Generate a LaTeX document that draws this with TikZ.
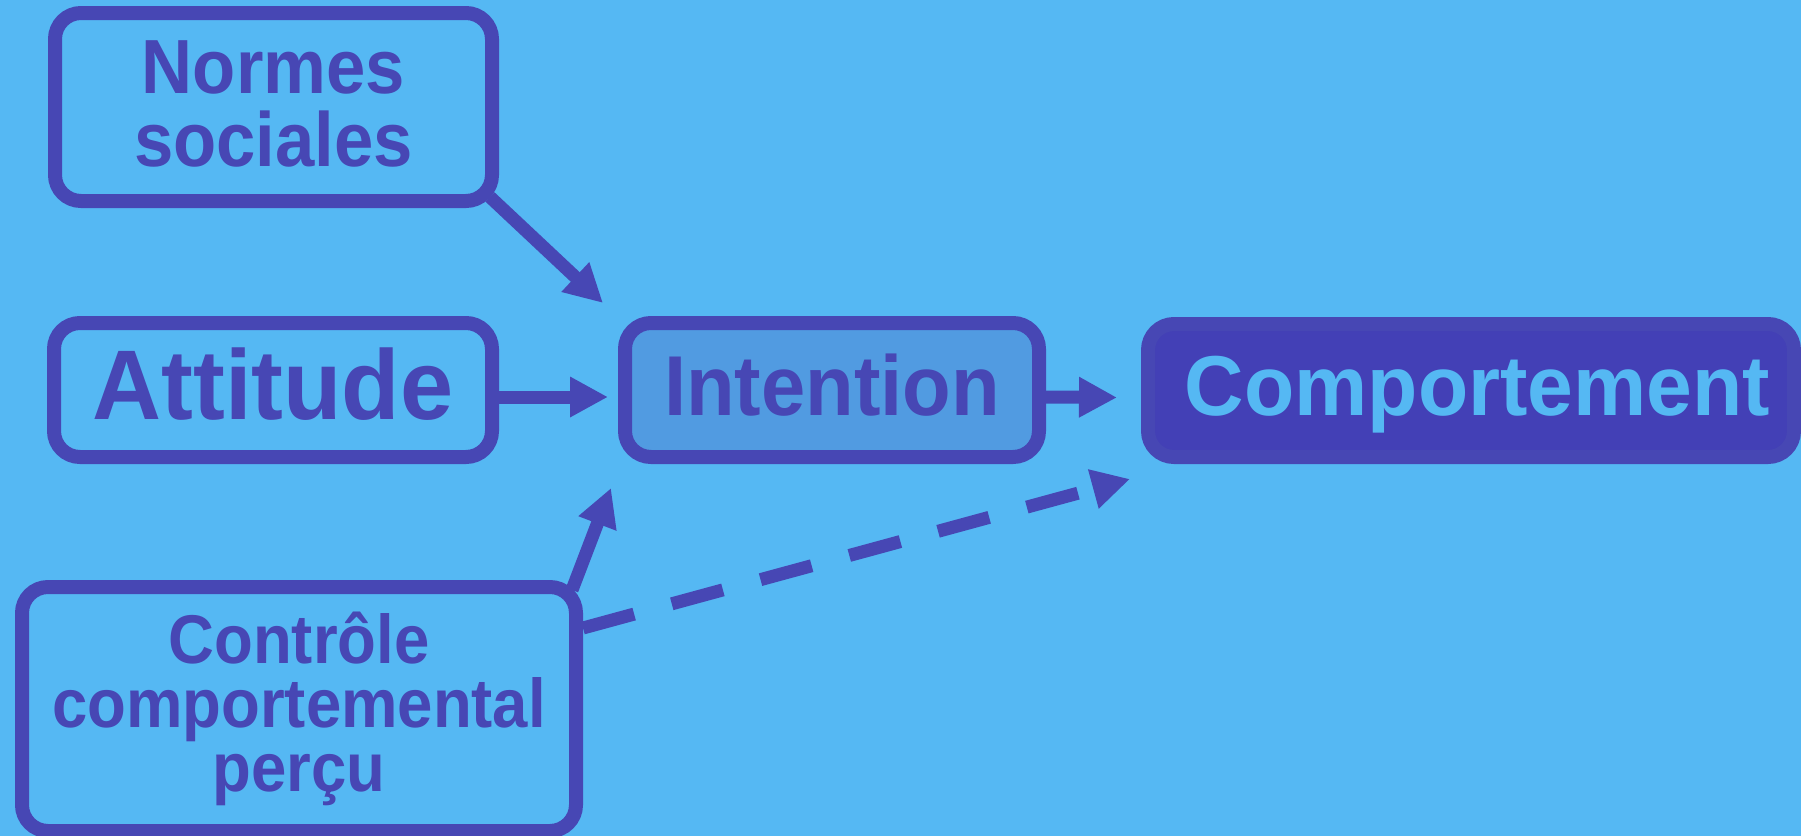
\documentclass[tikz,border=0pt]{standalone}
\usepackage{fontspec}
\setmainfont{Liberation Sans}
\newfontfamily\fatt{Liberation Sans}[FakeStretch=0.965]
\newfontfamily\fint{Liberation Sans}[FakeStretch=0.936]
\newfontfamily\fcomp{Liberation Sans}[FakeStretch=0.968]
\newfontfamily\fnorm{Liberation Sans}[FakeStretch=0.92]
\newfontfamily\fctrl{Liberation Sans}[FakeStretch=0.92]
\usetikzlibrary{arrows.meta}
\definecolor{bg}{RGB}{85,184,243}
\definecolor{ink}{RGB}{71,71,180}
\definecolor{intfill}{RGB}{81,155,225}
\definecolor{compfill}{RGB}{67,64,182}
\begin{document}
\begin{tikzpicture}[x=0.5pt,y=-0.5pt,
  box/.style={draw=ink, line width=7pt, rounded corners=13pt, inner sep=0pt, text=ink, align=center},
  arr/.style={draw=ink, line width=6.5pt, -{Triangle[length=19pt,width=19pt]}},
  dasharr/.style={arr, dash pattern=on 26.5pt off 19.5pt}
]
\fill[bg] (0,0) rectangle (1801,836);
\useasboundingbox (0,0) rectangle (1801,836);

\node[box, fill=bg, minimum width=218.5pt, minimum height=94pt,
  font=\fnorm\bfseries\fontsize{38.4}{36.5}\selectfont] (normes) at (273.5,107)
  {Normes\\sociales\rule[-3.5pt]{0pt}{3.5pt}};
\node[box, fill=bg, minimum width=219pt, minimum height=67pt, text height=29.3pt, text depth=0pt,
  font=\fatt\bfseries\fontsize{49.5}{50}\selectfont] (att) at (273,390) {Attitude};
\node[box, fill=intfill, minimum width=207pt, minimum height=67pt, text height=25pt, text depth=0pt,
  font=\fint\bfseries\fontsize{42.5}{44}\selectfont] (int) at (832,390) {Intention};
\node[box, fill=compfill, text=bg, minimum width=323pt, minimum height=66.5pt, text height=24.5pt, text depth=0pt,
  font=\fcomp\bfseries\fontsize{42.5}{44}\selectfont] (comp) at (1471,390.5) {\hspace*{6.5pt}Comportement};
\node[box, fill=bg, minimum width=277pt, minimum height=122pt,
  font=\fctrl\bfseries\fontsize{34.5}{32}\selectfont] (ctrl) at (299,709) {Contrôle\\comportemental\\perçu};

\coordinate (ntip) at (603,303);
\coordinate (ctip) at (611,488);
\coordinate (dtip) at (1130,479);

\draw[arr] ([xshift=-4.5pt,yshift=5.5pt]normes.south east) -- (ntip);
\draw[arr] ([yshift=-3.5pt]att.east) -- ([yshift=-3.5pt,xshift=-5pt]int.west);
\draw[arr] ([yshift=-3.5pt]int.east) -- ([yshift=-3.5pt,xshift=-12pt]comp.west);
\draw[arr] ([xshift=-5.5pt,yshift=-5pt]ctrl.north east) -- (ctip);
\draw[dasharr] ([yshift=-24pt]ctrl.north east) -- (dtip);
\end{tikzpicture}
\end{document}
